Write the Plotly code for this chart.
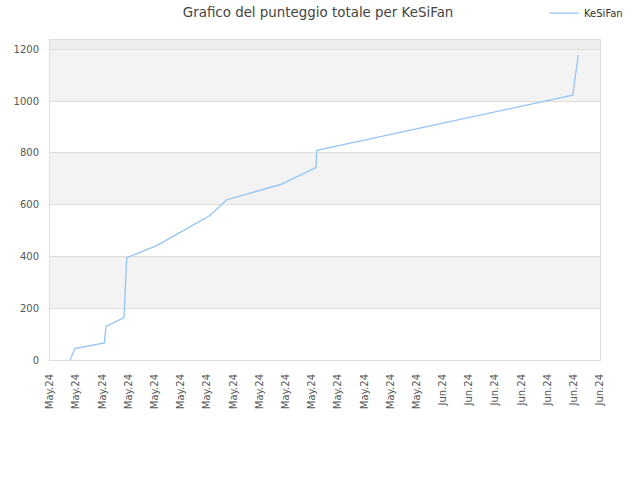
import plotly.graph_objects as go

dates = ["2024-05-03 12:40", "2024-05-03 21:50", "2024-05-06 03:30", "2024-05-06 06:37",
         "2024-05-07 15:37", "2024-05-07 17:30", "2024-05-07 20:34", "2024-05-10 03:33",
         "2024-05-12 04:19", "2024-05-14 05:14", "2024-05-15 11:46", "2024-05-19 16:34",
         "2024-05-22 07:27", "2024-05-22 08:47", "2024-05-24 03:30", "2024-06-10 22:00",
         "2024-06-11 08:10"]
scores = [0, 44, 66, 130, 164, 270, 395, 442, 500, 558, 619, 679, 743, 810, 829, 1023, 1178]

y_ticks = [0, 200, 400, 600, 800, 1000, 1200]
band_edges = [(200, 400), (600, 800), (1000, 1200)]
y_top = 1236

fig = go.Figure()
fig.add_trace(go.Scatter(x=dates, y=scores, mode="lines", name="KeSiFan",
                         line=dict(color="#94c4f4", width=1.3)))

shapes = []
for lo, hi in band_edges:
    shapes.append(dict(type="rect", xref="paper", yref="y", x0=0, x1=1, y0=lo, y1=hi,
                       fillcolor="#f3f3f3", line=dict(width=0), layer="below"))
shapes.append(dict(type="rect", xref="paper", yref="y", x0=0, x1=1, y0=1200, y1=y_top,
                   fillcolor="#eeeeee", line=dict(width=0), layer="below"))

fig.update_layout(
    width=640, height=480,
    margin=dict(l=50, r=40, t=40, b=120, autoexpand=False),
    paper_bgcolor="white", plot_bgcolor="white",
    font=dict(family="DejaVu Sans", size=10, color="#555555"),
    title=dict(text="Grafico del punteggio totale per KeSiFan", x=0.497, xanchor="center",
               y=0.975, yanchor="middle", font=dict(size=13.4, color="#444444")),
    showlegend=True,
    legend=dict(x=1.051, xanchor="right", y=1.084, yanchor="middle", bgcolor="rgba(0,0,0,0)",
                font=dict(size=10, color="#333333")),
    shapes=shapes,
    xaxis=dict(type="date", range=["2024-05-02", "2024-06-13"], tick0="2024-05-02",
               dtick=2 * 86400000, tickformat="%b.%y", tickangle=-90,
               showgrid=False, showline=True, linecolor="#dddddd", mirror=True,
               ticks="", zeroline=False, automargin=False, ticklabelstandoff=9),
    yaxis=dict(range=[0, y_top], tickvals=y_ticks, showgrid=True, gridcolor="#dddddd",
               showline=True, linecolor="#dddddd", mirror=True, zeroline=False,
               ticks="", ticklabelstandoff=8, automargin=False),
)

fig.write_html("out.html", config={"displayModeBar": False},
               post_script="document.body.style.margin='0';document.body.style.padding='0';")
